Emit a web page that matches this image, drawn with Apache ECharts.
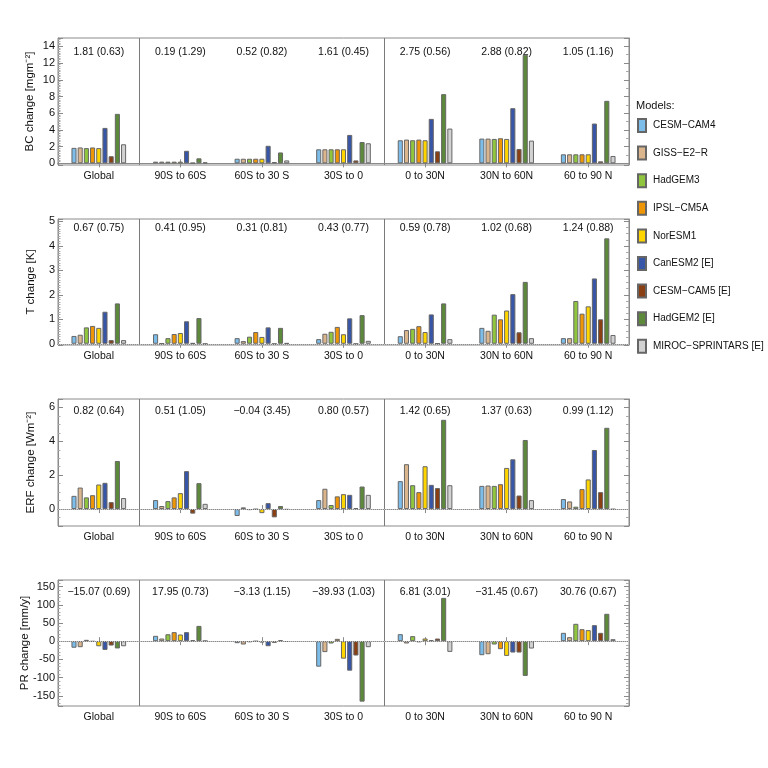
<!DOCTYPE html>
<html>
<head>
<meta charset="utf-8">
<script src="https://cdn.jsdelivr.net/npm/echarts@6/dist/echarts.min.js"></script>
<style>html,body{margin:0;padding:0;background:#fff;}#chart{width:768px;height:768px;}</style>
</head>
<body>
<div id="chart"></div>
<script>
// ---------- data ----------
const regions = ['Global', '90S to 60S', '60S to 30 S', '30S to 0', '0 to 30N', '30N to 60N', '60 to 90 N'];
const models = ['CESM\u2212CAM4', 'GISS\u2212E2\u2212R', 'HadGEM3', 'IPSL\u2212CM5A', 'NorESM1', 'CanESM2 [E]', 'CESM\u2212CAM5 [E]', 'HadGEM2 [E]', 'MIROC\u2212SPRINTARS [E]'];
const modelColors = ['#7dbdea', '#dbb58c', '#8fc63e', '#ef9606', '#ffd500', '#3856a8', '#8a3f12', '#5d8a3a', '#d2d2d2'];

// rows = models, columns = regions
const bcChange = [
  [1.85, 0.20, 0.55, 1.68, 2.76, 2.96, 1.08],
  [1.90, 0.20, 0.55, 1.68, 2.84, 2.96, 1.08],
  [1.82, 0.20, 0.55, 1.68, 2.76, 2.92, 1.08],
  [1.90, 0.20, 0.55, 1.68, 2.84, 3.00, 1.08],
  [1.82, 0.20, 0.55, 1.68, 2.76, 2.92, 1.08],
  [4.24, 1.50, 2.10, 3.40, 5.32, 6.60, 4.76],
  [0.85, 0.05, 0.15, 0.35, 1.44, 1.72, 0.24],
  [5.92, 0.60, 1.30, 2.55, 8.28, 13.00, 7.48],
  [2.28, 0.12, 0.35, 2.40, 4.16, 2.72, 0.88]
];
const tChange = [
  [0.32, 0.39, 0.23, 0.19, 0.31, 0.65, 0.23],
  [0.37, 0.01, 0.11, 0.41, 0.56, 0.53, 0.23],
  [0.67, 0.23, 0.29, 0.49, 0.61, 1.19, 1.75],
  [0.73, 0.40, 0.48, 0.69, 0.72, 1.00, 1.23],
  [0.65, 0.44, 0.28, 0.39, 0.48, 1.36, 1.53],
  [1.31, 0.92, 0.67, 1.04, 1.20, 2.03, 2.67],
  [0.15, 0.03, -0.01, -0.01, 0.01, 0.47, 1.00],
  [1.65, 1.05, 0.65, 1.17, 1.65, 2.53, 4.31],
  [0.15, -0.01, 0.03, 0.12, 0.19, 0.23, 0.36]
];
const erfChange = [
  [0.78, 0.53, -0.41, 0.53, 1.65, 1.37, 0.59],
  [1.27, 0.18, 0.10, 1.20, 2.65, 1.39, 0.45],
  [0.69, 0.47, -0.06, 0.24, 1.41, 1.37, 0.14],
  [0.82, 0.69, -0.02, 0.75, 1.00, 1.47, 1.18],
  [1.45, 0.94, -0.24, 0.88, 2.53, 2.43, 1.75],
  [1.55, 2.24, 0.35, 0.84, 1.43, 2.94, 3.49],
  [0.41, -0.27, -0.49, 0.06, 1.24, 0.80, 1.00],
  [2.84, 1.53, 0.18, 1.33, 5.27, 4.08, 4.80],
  [0.65, 0.31, -0.04, 0.84, 1.41, 0.53, -0.02]
];
const prChange = [
  [-18.0, 14.7, -5.5, -70.0, 19.3, -38.5, 22.9],
  [-16.5, 7.3, -9.2, -30.0, -6.4, -35.8, 11.0],
  [3.7, 19.0, -2.7, -6.4, 13.8, -9.2, 47.7],
  [-1.0, 24.8, -0.5, 6.4, -2.8, -22.0, 33.0],
  [-14.0, 18.3, -3.7, -48.0, 7.3, -40.4, 30.3],
  [-24.0, 24.8, -13.8, -81.0, 2.8, -31.2, 44.0],
  [-12.0, 2.7, -4.6, -39.4, 7.3, -31.2, 22.9],
  [-20.0, 42.0, 2.7, -166.0, 119.0, -95.4, 75.2],
  [-14.0, 0.9, -1.8, -16.5, -29.4, -20.2, 5.5]
];

const bcNotes = ['1.81 (0.63)', '0.19 (1.29)', '0.52 (0.82)', '1.61 (0.45)', '2.75 (0.56)', '2.88 (0.82)', '1.05 (1.16)'];
const tNotes = ['0.67 (0.75)', '0.41 (0.95)', '0.31 (0.81)', '0.43 (0.77)', '0.59 (0.78)', '1.02 (0.68)', '1.24 (0.88)'];
const erfNotes = ['0.82 (0.64)', '0.51 (1.05)', '\u22120.04 (3.45)', '0.80 (0.57)', '1.42 (0.65)', '1.37 (0.63)', '0.99 (1.12)'];
const prNotes = ['\u221215.07 (0.69)', '17.95 (0.73)', '\u22123.13 (1.15)', '\u221239.93 (1.03)', '6.81 (3.01)', '\u221231.45 (0.67)', '30.76 (0.67)'];

const axisNames = ['BC change [mgm\u207B\u00B2]', 'T change [K]', 'ERF change [Wm\u207B\u00B2]', 'PR change [mm/y]'];

// ---------- layout ----------
const FONT = "'Liberation Sans', Arial, sans-serif";
const panels = [
  { data: bcChange, notes: bcNotes, top: 38, height: 127, min: -0.2, max: 15, split: 7, minor: 10, rMinor: 2, noteMargin: 9, nameGap: 22, zero: false },
  { data: tChange, notes: tNotes, top: 219, height: 126, min: -0.05, max: 5.1, split: 5, minor: 10, rMinor: 4, noteMargin: 4, nameGap: 21, zero: true },
  { data: erfChange, notes: erfNotes, top: 399, height: 127, min: -1, max: 6.5, split: 4, minor: 4, rMinor: 4, noteMargin: 7, nameGap: 21, zero: true },
  { data: prChange, notes: prNotes, top: 580, height: 126, min: -178, max: 168, split: 7, minor: 5, rMinor: 5, noteMargin: 7, nameGap: 27, zero: true }
];

const grid = [], xAxis = [], yAxis = [], series = [];
const lineCol = '#8a8a8a';
panels.forEach((p, pi) => {
  grid.push({ left: 58, right: 139, top: p.top, height: p.height, show: true, borderColor: lineCol, borderWidth: 1 });
  // bottom category axis
  xAxis.push({
    type: 'category', gridIndex: pi, data: regions, position: 'bottom',
    axisLine: { show: true, lineStyle: { color: lineCol } },
    axisTick: { show: true, inside: true, alignWithLabel: true, length: 4, lineStyle: { color: lineCol } },
    axisLabel: { fontFamily: FONT, fontSize: 10.5, color: '#111', margin: 6, interval: 0 },
    splitLine: { show: true, interval: (i) => i === 1 || i === 4, lineStyle: { color: '#7a7a7a', width: 1 } }
  });
  // top category axis carrying the annotations
  xAxis.push({
    type: 'category', gridIndex: pi, data: p.notes, position: 'top',
    axisLine: { show: true, lineStyle: { color: lineCol } },
    axisTick: { show: true, inside: true, alignWithLabel: true, length: 4, lineStyle: { color: lineCol } },
    axisLabel: { inside: true, fontFamily: FONT, fontSize: 10.5, color: '#111', margin: p.noteMargin, interval: 0 },
    splitLine: { show: false }
  });
  yAxis.push({
    type: 'value', gridIndex: pi, position: 'left', min: p.min, max: p.max, splitNumber: p.split,
    name: axisNames[pi], nameLocation: 'middle', nameGap: p.nameGap, nameRotate: 90, nameMoveOverlap: false,
    nameTextStyle: { fontFamily: FONT, fontSize: 11.5, color: '#111' },
    axisLine: { show: true, lineStyle: { color: lineCol } },
    axisTick: { show: true, inside: true, length: 5, lineStyle: { color: lineCol } },
    minorTick: { show: true, splitNumber: p.minor, length: 2.5, lineStyle: { color: '#aaa' } },
    axisLabel: { fontFamily: FONT, fontSize: 11, color: '#111', margin: 3, showMinLabel: false, showMaxLabel: false },
    splitLine: { show: false }
  });
  yAxis.push({
    type: 'value', gridIndex: pi, position: 'right', min: p.min, max: p.max, splitNumber: p.split,
    axisLine: { show: true, lineStyle: { color: lineCol } },
    axisTick: { show: true, inside: true, length: 5, lineStyle: { color: lineCol } },
    minorTick: { show: true, splitNumber: p.rMinor, length: 3, lineStyle: { color: '#aaa' } },
    axisLabel: { show: false },
    splitLine: { show: false }
  });
  models.forEach((m, mi) => {
    const s = {
      type: 'bar', name: m, xAxisIndex: pi * 2, yAxisIndex: pi * 2,
      data: p.data[mi],
      barGap: '22%', barCategoryGap: '33%',
      itemStyle: { color: modelColors[mi], borderColor: '#666', borderWidth: 1 },
      emphasis: { disabled: true },
      animation: false
    };
    if (mi === 0 && p.zero) {
      s.markLine = {
        silent: true, symbol: 'none', label: { show: false },
        lineStyle: { color: '#c4c4c4', type: 'dotted', width: 1 },
        data: [{ yAxis: 0 }]
      };
    }
    series.push(s);
  });
});

const chart = echarts.init(document.getElementById('chart'), null, { renderer: 'canvas' });
chart.setOption({
  backgroundColor: '#fff',
  animation: false,
  title: { text: 'Models:', left: 631, top: 95, textStyle: { fontFamily: FONT, fontSize: 11, fontWeight: 'normal', color: '#111' } },
  legend: {
    data: models, orient: 'vertical', left: 637, top: 118, padding: 0,
    itemWidth: 8, itemHeight: 13, itemGap: 12.6, icon: 'rect',
    textStyle: { fontFamily: FONT, fontSize: 10, color: '#111', padding: [0, 0, 0, 2] },
    selectedMode: false
  },
  grid, xAxis, yAxis, series
});
</script>
</body>
</html>
